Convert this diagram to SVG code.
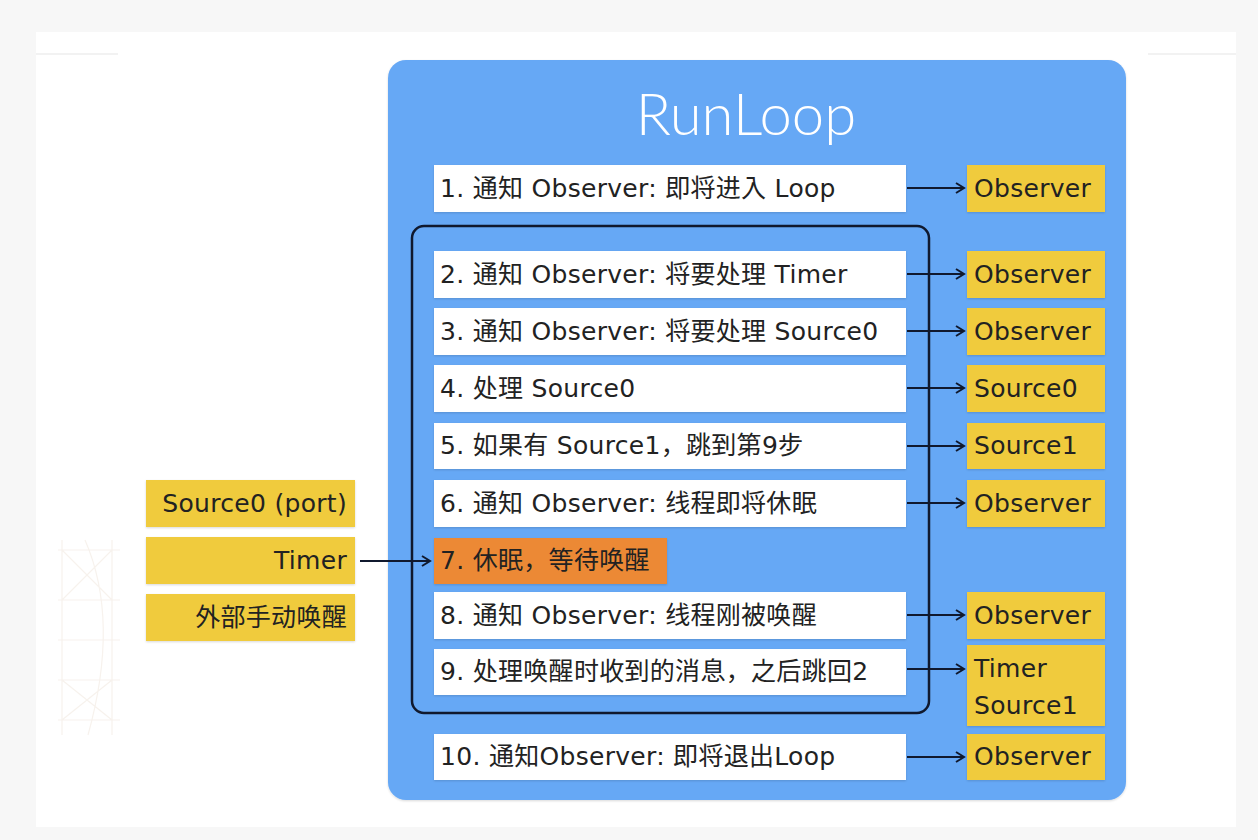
<svg xmlns="http://www.w3.org/2000/svg" width="1258" height="840" viewBox="0 0 1258 840">
<defs>
<marker id="ah" markerWidth="12" markerHeight="12" refX="10" refY="6" orient="auto" markerUnits="userSpaceOnUse">
<path d="M2,1 L10,6 L2,11" fill="none" stroke="#10192e" stroke-width="2"/>
</marker>
<filter id="sh" x="-5%" y="-5%" width="110%" height="115%">
<feDropShadow dx="0" dy="1" stdDeviation="1" flood-color="#000" flood-opacity="0.15"/>
</filter>
</defs>
<style>
.t{font-family:"DejaVu Sans","Noto Sans CJK JP","Noto Sans CJK SC",sans-serif;font-size:25px;letter-spacing:0.3px;fill:#222;}
.w{fill:#fff;filter:url(#sh);}
.y{fill:#f0cb3c;filter:url(#sh);}
.o{fill:#ec8935;filter:url(#sh);}
.c{stroke:#10192e;stroke-width:2;fill:none;}
.g{stroke:#f7f2ed;stroke-width:1.2;fill:none;}
</style>
<rect width="1258" height="840" fill="#f7f7f7"/>
<rect x="36" y="32" width="1200" height="795" fill="#fff"/>
<line x1="36" y1="54" x2="118" y2="54" stroke="#f2f2f2" stroke-width="2"/>
<line x1="1148" y1="54" x2="1236" y2="54" stroke="#f2f2f2" stroke-width="2"/>
<g id="sketch">
<path class="g" d="M58,550 L120,550 M58,600 L120,600 M58,640 L120,640 M58,680 L120,680 M58,720 L120,720 M62,540 L62,735 M112,540 L112,735 M62,550 L112,600 M112,550 L62,600 M62,680 L112,720 M112,680 L62,720 M85,540 Q120,620 88,735"/>
</g>
<g id="runloop">
<rect x="388" y="60" width="738" height="740" rx="18" fill="#66a8f5" filter="url(#sh)"/>
<text x="746" y="135" text-anchor="middle" font-family="Lato,'Noto Sans',sans-serif" font-weight="300" font-size="58" fill="#fff">RunLoop</text>
</g>
<g id="loop-frame">
<rect x="412" y="226" width="517" height="487" rx="12" fill="none" stroke="#10192e" stroke-width="2.5"/>
</g>
<g id="step1"><rect class="w" x="434" y="165" width="472" height="47"/><text class="t" x="440" y="197">1. 通知 Observer: 即将进入 Loop</text></g>
<g id="step2"><rect class="w" x="434" y="251" width="472" height="47"/><text class="t" x="440" y="283">2. 通知 Observer: 将要处理 Timer</text></g>
<g id="step3"><rect class="w" x="434" y="308" width="472" height="47"/><text class="t" x="440" y="340">3. 通知 Observer: 将要处理 Source0</text></g>
<g id="step4"><rect class="w" x="434" y="365" width="472" height="47"/><text class="t" x="440" y="397">4. 处理 Source0</text></g>
<g id="step5"><rect class="w" x="434" y="423" width="472" height="46"/><text class="t" x="440" y="454">5. 如果有 Source1，跳到第9步</text></g>
<g id="step6"><rect class="w" x="434" y="480" width="472" height="47"/><text class="t" x="440" y="512">6. 通知 Observer: 线程即将休眠</text></g>
<g id="step7"><rect class="o" x="434" y="538" width="233" height="46"/><text class="t" x="440" y="569">7. 休眠，等待唤醒</text></g>
<g id="step8"><rect class="w" x="434" y="592" width="472" height="47"/><text class="t" x="440" y="624">8. 通知 Observer: 线程刚被唤醒</text></g>
<g id="step9"><rect class="w" x="434" y="649" width="472" height="46"/><text class="t" x="440" y="680">9. 处理唤醒时收到的消息，之后跳回2</text></g>
<g id="step10"><rect class="w" x="434" y="734" width="472" height="46"/><text class="t" x="440" y="765">10. 通知Observer: 即将退出Loop</text></g>
<g id="out1"><rect class="y" x="967" y="165" width="138" height="47"/><text class="t" x="974" y="197">Observer</text></g>
<g id="out2"><rect class="y" x="967" y="251" width="138" height="47"/><text class="t" x="974" y="283">Observer</text></g>
<g id="out3"><rect class="y" x="967" y="308" width="138" height="47"/><text class="t" x="974" y="340">Observer</text></g>
<g id="out4"><rect class="y" x="967" y="365" width="138" height="47"/><text class="t" x="974" y="397">Source0</text></g>
<g id="out5"><rect class="y" x="967" y="423" width="138" height="46"/><text class="t" x="974" y="454">Source1</text></g>
<g id="out6"><rect class="y" x="967" y="480" width="138" height="47"/><text class="t" x="974" y="512">Observer</text></g>
<g id="out8"><rect class="y" x="967" y="592" width="138" height="47"/><text class="t" x="974" y="624">Observer</text></g>
<g id="out9"><rect class="y" x="967" y="645" width="138" height="81"/><text class="t" x="974" y="677">Timer</text><text class="t" x="974" y="714">Source1</text></g>
<g id="out10"><rect class="y" x="967" y="734" width="138" height="46"/><text class="t" x="974" y="765">Observer</text></g>
<g id="src-port"><rect class="y" x="146" y="480" width="209" height="47"/><text class="t" x="347" y="512" text-anchor="end">Source0 (port)</text></g>
<g id="src-timer"><rect class="y" x="146" y="537" width="209" height="47"/><text class="t" x="347" y="569" text-anchor="end">Timer</text></g>
<g id="src-manual"><rect class="y" x="146" y="594" width="209" height="47"/><text class="t" x="347" y="626" text-anchor="end">外部手动唤醒</text></g>
<g id="connectors">
<line class="c" x1="907" y1="188" x2="964" y2="188" marker-end="url(#ah)"/>
<line class="c" x1="907" y1="274" x2="964" y2="274" marker-end="url(#ah)"/>
<line class="c" x1="907" y1="331" x2="964" y2="331" marker-end="url(#ah)"/>
<line class="c" x1="907" y1="388" x2="964" y2="388" marker-end="url(#ah)"/>
<line class="c" x1="907" y1="446" x2="964" y2="446" marker-end="url(#ah)"/>
<line class="c" x1="907" y1="503" x2="964" y2="503" marker-end="url(#ah)"/>
<line class="c" x1="907" y1="615" x2="964" y2="615" marker-end="url(#ah)"/>
<line class="c" x1="907" y1="669" x2="964" y2="669" marker-end="url(#ah)"/>
<line class="c" x1="907" y1="757" x2="964" y2="757" marker-end="url(#ah)"/>
<line class="c" x1="360" y1="561" x2="430" y2="561" stroke-width="2.5" marker-end="url(#ah)"/>
</g>
</svg>
